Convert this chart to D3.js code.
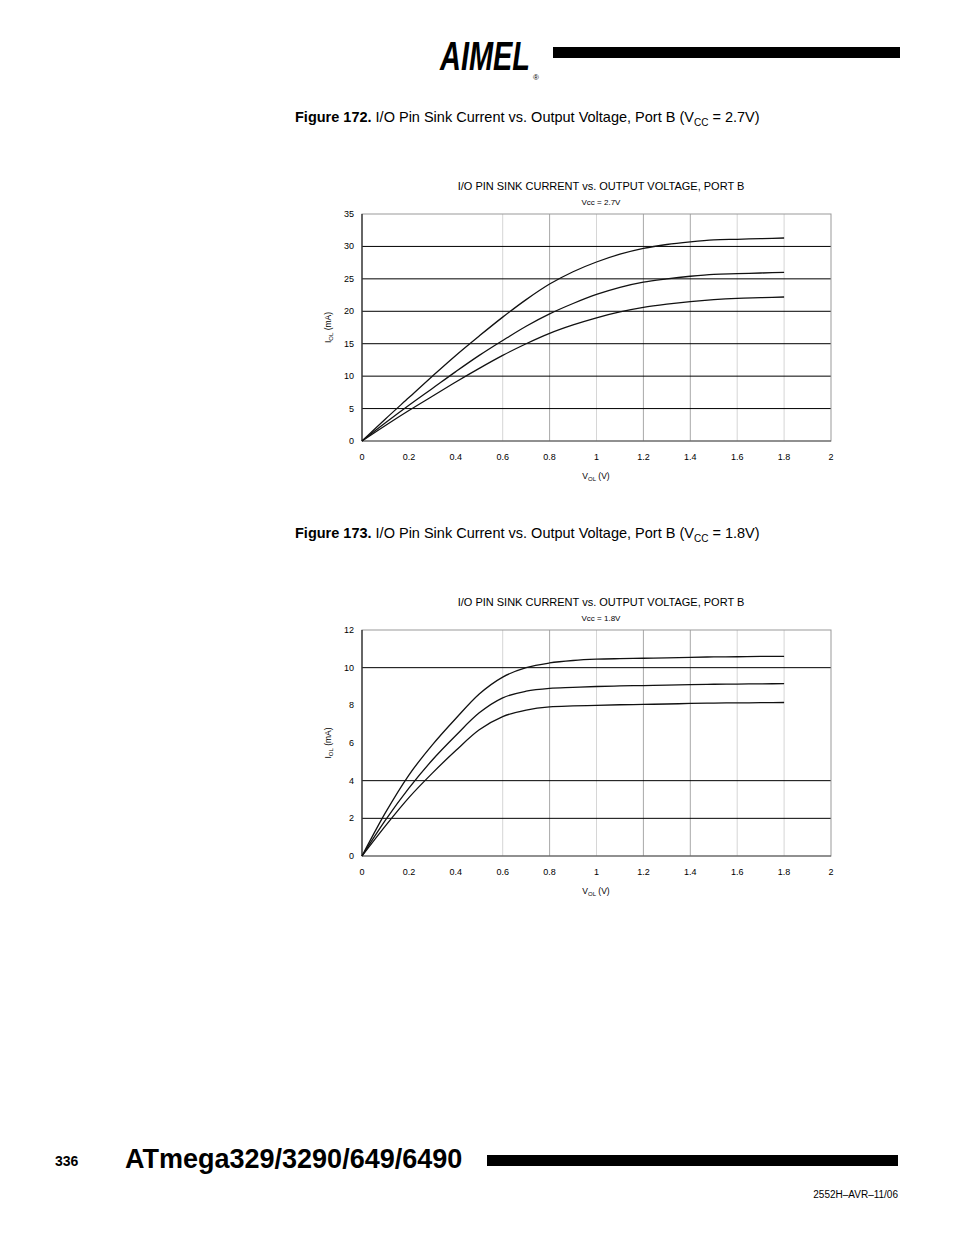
<!DOCTYPE html>
<html><head><meta charset="utf-8">
<script src="https://cdn.jsdelivr.net/npm/d3@7"></script>
<style>body{margin:0;background:#fff;font-family:"Liberation Sans",Arial,sans-serif}</style>
</head><body>
<script>
var xs = [0,0.1,0.2,0.3,0.4,0.5,0.6,0.7,0.8,0.9,1.0,1.1,1.2,1.3,1.4,1.5,1.6,1.7,1.8];
// figure 172, Vcc = 2.7V
var a27 = [0,3.4,6.7,10.0,13.2,16.2,19.1,21.8,24.2,26.1,27.6,28.8,29.7,30.3,30.7,31.0,31.1,31.2,31.3];
var b27 = [0,2.8,5.5,8.1,10.7,13.2,15.5,17.7,19.6,21.2,22.6,23.7,24.5,25.0,25.4,25.7,25.8,25.9,26.0];
var c27 = [0,2.4,4.7,6.9,9.1,11.2,13.2,15.0,16.6,17.9,19.0,19.9,20.6,21.1,21.5,21.8,22.0,22.1,22.2];
// figure 173, Vcc = 1.8V
var a18 = [0,2.3,4.3,5.9,7.3,8.6,9.5,10.0,10.25,10.38,10.45,10.48,10.5,10.52,10.55,10.57,10.58,10.6,10.6];
var b18 = [0,1.9,3.6,5.1,6.4,7.6,8.4,8.75,8.9,8.95,9.0,9.03,9.05,9.07,9.1,9.12,9.13,9.14,9.15];
var c18 = [0,1.6,3.1,4.4,5.6,6.7,7.4,7.75,7.92,7.97,8.0,8.03,8.05,8.07,8.1,8.12,8.13,8.14,8.15];
var xTicks = [0,0.2,0.4,0.6,0.8,1,1.2,1.4,1.6,1.8,2];
var yTicks1 = [0,5,10,15,20,25,30,35], hGrid1 = [5,10,15,20,25,30];
var yTicks2 = [0,2,4,6,8,10,12], hGrid2 = [2,4,10];
var vLight = [0.6,1.0,1.6,1.8], vDark = [0.8,1.2,1.4];

var svg = d3.select("body").append("svg").attr("width",954).attr("height",1235);

// header
svg.append("rect").attr("x",553).attr("y",47).attr("width",347).attr("height",11).attr("fill","#000");
svg.append("text").attr("x",440).attr("y",70).attr("font-size",40).attr("font-weight","bold")
   .attr("font-style","italic").attr("textLength",90).attr("lengthAdjust","spacingAndGlyphs").text("AIMEL");
svg.append("text").attr("x",533).attr("y",80).attr("font-size",8).text("®");

function figTitle(y, v) {
  var t = svg.append("text").attr("x",295).attr("y",y).attr("font-size",14.5);
  t.append("tspan").attr("font-weight","bold").text("Figure " + (v=="2.7V"?"172.":"173.") + "  ");
  t.append("tspan").text("I/O Pin Sink Current vs. Output Voltage, Port B (V");
  t.append("tspan").attr("font-size",10).attr("dy",4).text("CC");
  t.append("tspan").attr("dy",-4).text(" = " + v + ")");
}

function chart(top, bottom, ymax, yTicks, hGrid, series, vcc) {
  var x = d3.scaleLinear().domain([0,2]).range([362,831]);
  var y = d3.scaleLinear().domain([0,ymax]).range([bottom,top]);
  var g = svg.append("g");
  g.selectAll(".vl").data(vLight).enter().append("line")
   .attr("x1",d=>x(d)).attr("x2",d=>x(d)).attr("y1",top).attr("y2",bottom).attr("stroke","#d6d6d6");
  g.selectAll(".vd").data(vDark).enter().append("line")
   .attr("x1",d=>x(d)).attr("x2",d=>x(d)).attr("y1",top).attr("y2",bottom).attr("stroke","#a8a8a8");
  g.selectAll(".hg").data(hGrid).enter().append("line")
   .attr("x1",362).attr("x2",831).attr("y1",d=>y(d)).attr("y2",d=>y(d)).attr("stroke","#000");
  g.append("rect").attr("x",362).attr("y",top).attr("width",469).attr("height",bottom-top)
   .attr("fill","none").attr("stroke","#999");
  g.append("line").attr("x1",362).attr("x2",362).attr("y1",top).attr("y2",bottom).attr("stroke","#000");
  g.append("line").attr("x1",362).attr("x2",831).attr("y1",bottom).attr("y2",bottom).attr("stroke","#555");
  var line = d3.line().x((d,i)=>x(xs[i])).y(d=>y(d)).curve(d3.curveMonotoneX);
  series.forEach(function(s){
    g.append("path").attr("d",line(s)).attr("fill","none").attr("stroke","#111").attr("stroke-width",1.3);
  });
  g.selectAll(".xt").data(xTicks).enter().append("text").attr("x",d=>x(d)).attr("y",bottom+19)
   .attr("text-anchor","middle").attr("font-size",9).text(d=>d);
  g.selectAll(".yt").data(yTicks).enter().append("text").attr("x",354).attr("y",d=>y(d)+3)
   .attr("text-anchor","end").attr("font-size",9).text(d=>d);
  g.append("text").attr("x",601).attr("y",top-24).attr("text-anchor","middle").attr("font-size",11)
   .text("I/O PIN SINK CURRENT vs. OUTPUT VOLTAGE, PORT B");
  g.append("text").attr("x",601).attr("y",top-9).attr("text-anchor","middle").attr("font-size",8)
   .text("Vcc = " + vcc);
  var xl = g.append("text").attr("x",596).attr("y",bottom+38).attr("text-anchor","middle").attr("font-size",8.5);
  xl.text("V"); xl.append("tspan").attr("font-size",6).attr("dy",2).text("OL");
  xl.append("tspan").attr("dy",-2).text(" (V)");
  var ym = (top+bottom)/2;
  var yl = g.append("text").attr("transform","translate(331,"+ym+") rotate(-90)")
   .attr("text-anchor","middle").attr("font-size",8.5);
  yl.text("I"); yl.append("tspan").attr("font-size",6).attr("dy",2).text("OL");
  yl.append("tspan").attr("dy",-2).text(" (mA)");
}

figTitle(122, "2.7V");
chart(214, 441, 35, yTicks1, hGrid1, [a27,b27,c27], "2.7V");
figTitle(538, "1.8V");
chart(630, 856, 12, yTicks2, hGrid2, [a18,b18,c18], "1.8V");

// footer
svg.append("text").attr("x",55).attr("y",1166).attr("font-size",14).attr("font-weight","bold").text("336");
svg.append("text").attr("x",125).attr("y",1168).attr("font-size",27).attr("font-weight","bold").text("ATmega329/3290/649/6490");
svg.append("rect").attr("x",487).attr("y",1155).attr("width",411).attr("height",11).attr("fill","#000");
svg.append("text").attr("x",898).attr("y",1198).attr("text-anchor","end").attr("font-size",10).text("2552H–AVR–11/06");
</script>
</body></html>
